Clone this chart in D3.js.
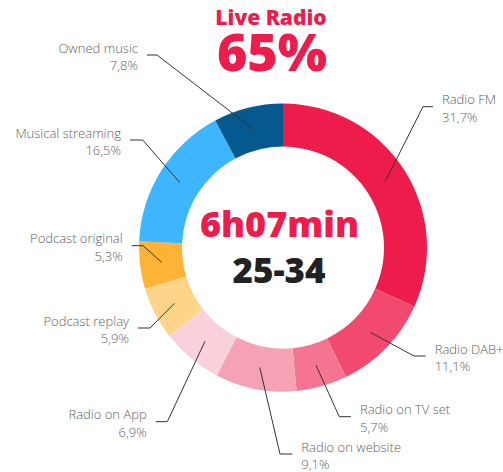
<!DOCTYPE html>
<html><head><meta charset="utf-8">
<script src="https://cdn.jsdelivr.net/npm/d3@7"></script>
<style>body{margin:0;background:#fff}svg{display:block}</style>
</head><body>
<svg id="c" width="503" height="472"></svg>
<script>
const categories = ["Radio FM","Radio DAB+","Radio on TV set","Radio on website","Radio on App","Podcast replay","Podcast original","Musical streaming","Owned music"];
const values = [31.7, 11.1, 5.7, 9.1, 6.9, 5.9, 5.3, 16.5, 7.8];
const valueLabels = ["31,7%","11,1%","5,7%","9,1%","6,9%","5,9%","5,3%","16,5%","7,8%"];
const colors = ["#ED1C4A","#F24A6E","#F47492","#F6A2B5","#FAD0DB","#FED38A","#FDB336","#3DB5FF","#04598F"];
const titleText = "Live Radio";
const titleValue = "65%";
const centerTime = "6h07min";
const centerAge = "25-34";
// label layout: elbow point, horizontal end x, side
const labelLayout = [
  {ex:423, ey:106.7, hx:433, side:"r"},
  {ex:414, ey:356, hx:425.7, side:"r"},
  {ex:339.3, ey:416.7, hx:351, side:"r"},
  {ex:280, ey:454, hx:292.3, side:"r"},
  {ex:167.3, ey:421.7, hx:155.7, side:"l"},
  {ex:150, ey:328, hx:138, side:"l"},
  {ex:143, ey:245.7, hx:131.7, side:"l"},
  {ex:142.7, ey:140, hx:130, side:"l"},
  {ex:157, ey:55, hx:147, side:"l"}
];

const svg = d3.select("#c");
const cx = 283, cy = 247.6, rOut = 144, rIn = 101, rLead = 122;
const data = categories.map((c,i)=>({cat:c, v:values[i], lab:valueLabels[i], col:colors[i], lay:labelLayout[i]}));
const pie = d3.pie().value(d=>d.v).sort(null);
const arcs = pie(data);
const arc = d3.arc().innerRadius(rIn).outerRadius(rOut);
const leadArc = d3.arc().innerRadius(rLead).outerRadius(rLead);
const g = svg.append("g").attr("transform",`translate(${cx},${cy})`);
g.selectAll("path.s").data(arcs).join("path").attr("class","s")
  .attr("d",arc).attr("fill",d=>d.data.col);

const font = "'Open Sans', sans-serif";
const lg = svg.append("g");
arcs.forEach(a=>{
  const [px,py] = leadArc.centroid(a);
  const L = a.data.lay;
  lg.append("polyline")
    .attr("points",`${cx+px},${cy+py} ${L.ex},${L.ey} ${L.hx},${L.ey}`)
    .attr("fill","none").attr("stroke","#333").attr("stroke-width",1);
  const tx = L.side==="r" ? L.hx+9 : L.hx-9;
  const anchor = L.side==="r" ? "start" : "end";
  const t = lg.append("text").attr("x",tx).attr("text-anchor",anchor)
    .attr("font-family",font).attr("font-weight",300).attr("font-size",13).attr("fill","#606060");
  t.append("tspan").attr("x",tx).attr("y",L.ey-2.5).text(a.data.cat);
  t.append("tspan").attr("x",tx).attr("y",L.ey+14.8).text(a.data.lab);
});

svg.append("text").attr("x",271).attr("y",24.5).attr("text-anchor","middle")
  .attr("font-family",font).attr("font-weight",800).attr("font-size",21).attr("fill","#ED1C4A").text(titleText);
svg.append("text").attr("x",272).attr("y",70.5).attr("text-anchor","middle")
  .attr("font-family",font).attr("font-weight",800).attr("font-size",52).attr("fill","#ED1C4A").text(titleValue);
svg.append("text").attr("x",279.5).attr("y",237.3).attr("text-anchor","middle")
  .attr("font-family",font).attr("font-weight",800).attr("font-size",36).attr("fill","#ED1C4A").text(centerTime);
svg.append("text").attr("x",279).attr("y",282.7).attr("text-anchor","middle")
  .attr("font-family",font).attr("font-weight",800).attr("font-size",35).attr("fill","#222").text(centerAge);
</script>
</body></html>
